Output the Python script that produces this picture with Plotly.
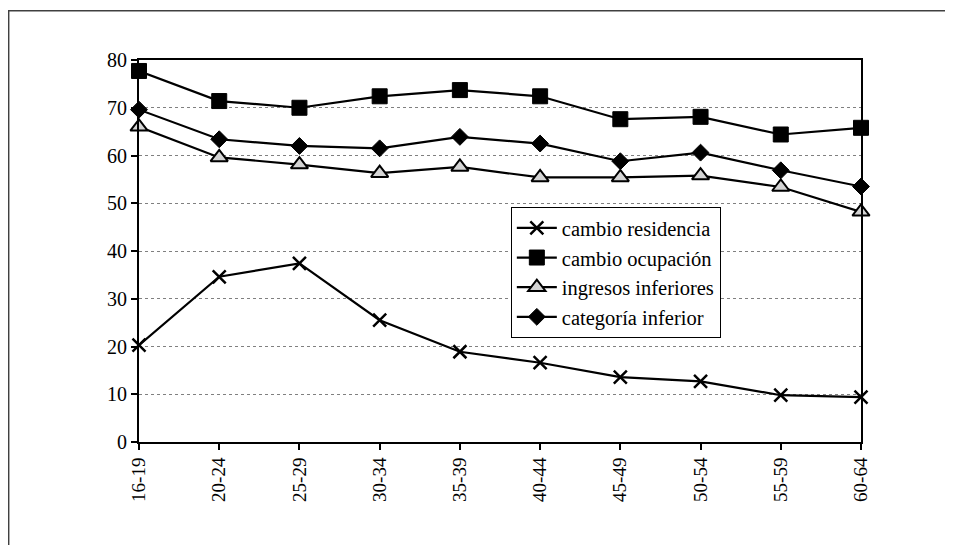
import plotly.graph_objects as go

categories = ["16-19", "20-24", "25-29", "30-34", "35-39", "40-44", "45-49", "50-54", "55-59", "60-64"]
cambio_residencia = [20.3, 34.6, 37.4, 25.5, 18.9, 16.6, 13.6, 12.7, 9.8, 9.4]
cambio_ocupacion = [77.7, 71.4, 70.0, 72.4, 73.7, 72.4, 67.6, 68.1, 64.4, 65.8]
ingresos_inferiores = [66.0, 59.6, 58.1, 56.3, 57.6, 55.4, 55.4, 55.8, 53.4, 48.2]
categoria_inferior = [69.6, 63.4, 62.0, 61.5, 63.9, 62.5, 58.8, 60.6, 56.9, 53.5]
y_ticks = [0, 10, 20, 30, 40, 50, 60, 70, 80]

FONT = "Liberation Serif, Times New Roman, serif"

fig = go.Figure()
series = [
    ("cambio residencia", cambio_residencia, dict(symbol="x-thin", size=13, color="black",
                                                  line=dict(color="black", width=2.5))),
    ("cambio ocupación", cambio_ocupacion, dict(symbol="square", size=15, color="black",
                                                line=dict(color="black", width=1))),
    ("ingresos inferiores", ingresos_inferiores, dict(symbol="triangle-up", size=15, color="#d4d4d4",
                                                      line=dict(color="black", width=2))),
    ("categoría inferior", categoria_inferior, dict(symbol="diamond", size=13, color="black",
                                                    line=dict(color="black", width=1))),
]
for name, vals, mk in series:
    fig.add_trace(go.Scatter(
        x=categories, y=vals, name=name, mode="lines+markers",
        line=dict(color="black", width=2.2), marker=mk, cliponaxis=False,
    ))

# outer frame
fig.add_shape(type="rect", xref="paper", yref="paper",
              x0=-0.1805, x1=1.16, y0=-0.3, y1=1.129,
              line=dict(color="#404040", width=1.5), layer="below")

fig.update_layout(
    width=945, height=537,
    margin=dict(l=131, r=92, t=52, b=103),
    paper_bgcolor="white", plot_bgcolor="white",
    font=dict(family=FONT, size=20, color="black"),
    showlegend=True,
    legend=dict(
        x=0.515, y=0.615, xanchor="left", yanchor="top",
        bgcolor="white", bordercolor="black", borderwidth=1,
        font=dict(family=FONT, size=20.5, color="black"),
        tracegroupgap=0, itemwidth=40,
    ),
    xaxis=dict(
        type="category", range=[0, 9], tickangle=-90,
        showline=True, linecolor="black", linewidth=2, mirror=True,
        ticks="outside", ticklen=6, tickcolor="black", tickwidth=1.5,
        showgrid=False, zeroline=False,
        tickfont=dict(family=FONT, size=19, color="black"),
    ),
    yaxis=dict(
        range=[0, 80], tickvals=y_ticks,
        showline=True, linecolor="black", linewidth=2, mirror=True,
        ticks="outside", ticklen=6, tickcolor="black", tickwidth=1.5,
        showgrid=True, gridcolor="#808080", gridwidth=1, griddash="dot",
        zeroline=False,
        tickfont=dict(family=FONT, size=20, color="black"),
    ),
)

fig.write_html("out.html")
